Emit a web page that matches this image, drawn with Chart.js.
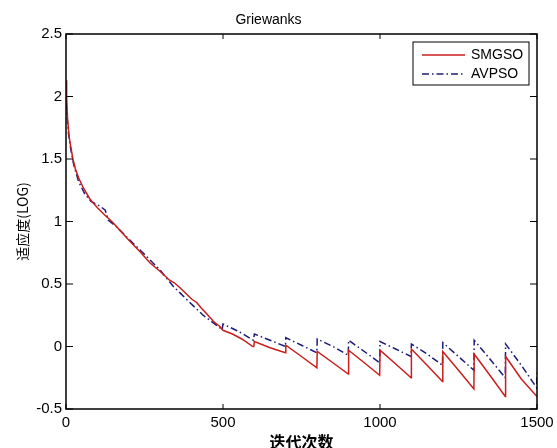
<!DOCTYPE html>
<html>
<head>
<meta charset="utf-8">
<title>Griewanks</title>
<script src="https://cdn.jsdelivr.net/npm/chart.js"></script>
<style>
  html, body { margin: 0; padding: 0; background: #fff; }
  #wrap { width: 557px; height: 448px; }
</style>
</head>
<body>
<div id="wrap"><canvas id="myChart" width="557" height="448"></canvas></div>
<script>
// ---- Data ----
const chartTitle = "Griewanks";
const xTitle = "迭代次数";
const yTitle = "适应度(LOG)";
const xTicks = [0, 500, 1000, 1500];
const yTicks = [-0.5, 0, 0.5, 1, 1.5, 2, 2.5];

const smgsoIter = [0, 2, 5, 10, 15, 22, 30, 40, 55, 76, 100, 120, 150, 175, 204, 235, 267, 300, 330, 345, 363, 400, 417, 430, 445, 470, 490, 500, 530, 560, 595, 598, 600, 650, 699, 700, 750, 799, 800, 850, 899, 900, 950, 999, 1000, 1050, 1099, 1100, 1150, 1199, 1200, 1250, 1299, 1300, 1350, 1399, 1400, 1450, 1500];
const smgsoVal  = [2.13, 2.0, 1.82, 1.68, 1.6, 1.5, 1.42, 1.35, 1.27, 1.18, 1.11, 1.06, 0.99, 0.92, 0.84, 0.76, 0.67, 0.6, 0.53, 0.51, 0.47, 0.38, 0.35, 0.31, 0.27, 0.2, 0.16, 0.13, 0.1, 0.06, 0.0, 0.0, 0.04, -0.01, -0.05, 0.01, -0.08, -0.17, -0.04, -0.13, -0.22, -0.03, -0.13, -0.23, -0.03, -0.14, -0.25, -0.02, -0.15, -0.28, -0.04, -0.19, -0.34, -0.06, -0.23, -0.40, -0.08, -0.26, -0.40];

const avpsoIter = [0, 3, 8, 15, 25, 40, 60, 80, 110, 125, 135, 160, 204, 257, 300, 342, 395, 437, 490, 497, 500, 550, 597, 600, 650, 699, 700, 750, 799, 800, 850, 899, 900, 950, 999, 1000, 1050, 1099, 1100, 1150, 1199, 1200, 1250, 1299, 1300, 1350, 1399, 1400, 1450, 1499, 1500];
const avpsoVal  = [1.95, 1.85, 1.7, 1.58, 1.45, 1.32, 1.22, 1.16, 1.12, 1.09, 1.01, 0.96, 0.85, 0.72, 0.61, 0.48, 0.35, 0.25, 0.15, 0.13, 0.18, 0.12, 0.05, 0.1, 0.05, 0.0, 0.07, 0.01, -0.05, 0.06, 0.0, -0.07, 0.05, -0.04, -0.13, 0.04, -0.02, -0.08, 0.02, -0.06, -0.15, 0.03, -0.08, -0.19, 0.05, -0.1, -0.25, 0.02, -0.15, -0.33, -0.21];

const toPoints = (xs, ys) => xs.map((x, i) => ({ x, y: ys[i] }));

// ---- MATLAB style box, inward ticks, legend ----
const boxPlugin = {
  id: "matlabBox",
  afterDatasetsDraw(chart) {
    const { ctx, chartArea: a, scales } = chart;
    ctx.save();
    ctx.strokeStyle = "#000";
    ctx.lineWidth = 1.5;
    ctx.strokeRect(a.left, a.top, a.right - a.left, a.bottom - a.top);
    ctx.lineWidth = 1;
    ctx.beginPath();
    xTicks.forEach(v => {
      const px = scales.x.getPixelForValue(v);
      ctx.moveTo(px, a.bottom); ctx.lineTo(px, a.bottom - 5);
      ctx.moveTo(px, a.top);    ctx.lineTo(px, a.top + 5);
    });
    yTicks.forEach(v => {
      const py = scales.y.getPixelForValue(v);
      ctx.moveTo(a.left, py);  ctx.lineTo(a.left + 7, py);
      ctx.moveTo(a.right, py); ctx.lineTo(a.right - 7, py);
    });
    ctx.stroke();

    // legend box
    const lx = 413, ly = 42, lw = 116, lh = 43;
    ctx.fillStyle = "#fff";
    ctx.fillRect(lx, ly, lw, lh);
    ctx.strokeStyle = "#000";
    ctx.lineWidth = 1;
    ctx.strokeRect(lx, ly, lw, lh);
    ctx.font = "14px 'Liberation Sans', Arial, sans-serif";
    ctx.textBaseline = "middle";
    chart.data.datasets.forEach((ds, i) => {
      const y = ly + 13 + i * 19;
      ctx.strokeStyle = ds.borderColor;
      ctx.lineWidth = ds.borderWidth;
      ctx.setLineDash(ds.borderDash || []);
      ctx.beginPath();
      ctx.moveTo(lx + 9, y); ctx.lineTo(lx + 52, y);
      ctx.stroke();
      ctx.setLineDash([]);
      ctx.fillStyle = "#000";
      ctx.fillText(ds.label, lx + 58, y);
    });
    ctx.restore();
  }
};

const ctx = document.getElementById("myChart");
new Chart(ctx, {
  type: "line",
  data: {
    datasets: [
      {
        label: "SMGSO",
        data: toPoints(smgsoIter, smgsoVal),
        borderColor: "#c81e1e",
        borderWidth: 1.5,
        pointRadius: 0,
        tension: 0
      },
      {
        label: "AVPSO",
        data: toPoints(avpsoIter, avpsoVal),
        borderColor: "#1c1c78",
        borderWidth: 1.5,
        borderDash: [7, 3, 1.5, 3],
        pointRadius: 0,
        tension: 0
      }
    ]
  },
  options: {
    responsive: false,
    animation: false,
    layout: { padding: { top: 0, right: 20, left: 0, bottom: 0 } },
    plugins: {
      legend: { display: false },
      tooltip: { enabled: false },
      title: {
        display: true,
        text: chartTitle,
        color: "#000",
        font: { family: "'Liberation Sans', Arial, sans-serif", size: 14, weight: "normal" },
        padding: { top: 11.6, bottom: 5.6 }
      }
    },
    scales: {
      x: {
        type: "linear",
        min: 0,
        max: 1500,
        afterFit: s => { s.height = 39; s.paddingLeft = 0; s.paddingRight = 0; },
        afterBuildTicks: s => { s.ticks = xTicks.map(v => ({ value: v })); },
        grid: { display: false, drawTicks: false },
        border: { display: false },
        ticks: {
          color: "#000",
          padding: 5,
          maxRotation: 0,
          font: { family: "'Liberation Sans', Arial, sans-serif", size: 15 },
          callback: v => String(v)
        },
        title: {
          display: true,
          text: xTitle,
          color: "#000",
          padding: 0,
          font: { family: "'Noto Sans CJK SC', sans-serif", size: 16, weight: "bold", lineHeight: 0.8 }
        }
      },
      y: {
        min: -0.5,
        max: 2.5,
        afterFit: s => { s.width = 66; },
        afterBuildTicks: s => { s.ticks = yTicks.map(v => ({ value: v })); },
        grid: { display: false, drawTicks: false },
        border: { display: false },
        ticks: {
          color: "#000",
          padding: 4,
          font: { family: "'Liberation Sans', Arial, sans-serif", size: 15 },
          callback: v => String(v)
        },
        title: {
          display: true,
          text: yTitle,
          color: "#000",
          padding: { top: 14 },
          font: { family: "'Noto Sans CJK SC', sans-serif", size: 14, lineHeight: 1.2 }
        }
      }
    }
  },
  plugins: [boxPlugin]
});
</script>
</body>
</html>
